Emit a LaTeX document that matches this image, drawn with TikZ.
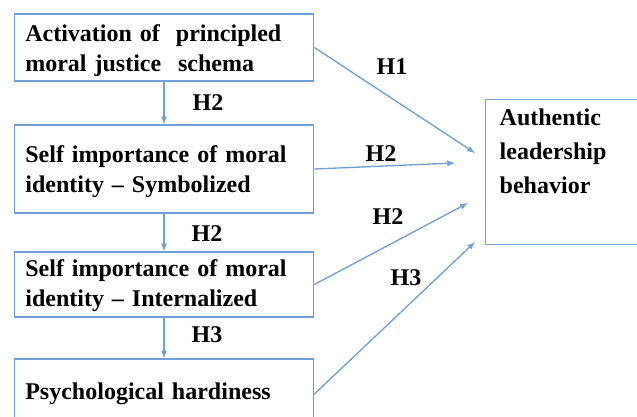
\documentclass[tikz,border=0pt]{standalone}
\usepackage{fontspec}
\setmainfont{Liberation Serif}
\definecolor{lineblue}{RGB}{110,160,215}
\tikzset{
  box/.style={draw=lineblue, line width=1.1pt, text width=208pt, align=left, inner xsep=8.25pt,
    font=\bfseries\fontsize{18}{22.5}\selectfont},
  hyp/.style={font=\bfseries\fontsize{18}{22}\selectfont},
  link/.style={->, draw=lineblue, line width=1pt}
}
\begin{document}
\begin{tikzpicture}[>=latex, x=.75pt, y=-.75pt]
\clip (0,0) rectangle (637,417);
\node[box, minimum height=50.25pt, text height=17pt] (act) at (164,47.5) {Activation of\ \ principled\\moral justice\hspace{.7em}schema};
\node[box, minimum height=66pt, text height=17pt] (sym) at (164,169) {Self importance of moral\\identity -- Symbolized};
\node[box, minimum height=48.75pt, text height=15pt] (int) at (164,284.5) {Self importance of moral\\identity -- Internalized};
\node[box, minimum height=52.5pt] (hard) at (164,394) {Psychological hardiness};
\node[box, anchor=north west, text width=110pt, minimum width=131pt, text depth=82pt, inner ysep=7pt,
      font=\bfseries\fontsize{18}{25.5}\selectfont] (alb) at (485,99) {Authentic\\leadership\\behavior};

\coordinate (t1) at (475,153);
\coordinate (t2) at (455,163);
\coordinate (t3) at (468,203);
\coordinate (t4) at (475,242);

\draw[link] (act.south)--(sym.north);
\draw[link] (sym.south)--(int.north);
\draw[link] (int.south)--(hard.north);
\foreach \a/\b in {act/t1, sym/t2, int/t3, hard/t4}
{
    \draw[link] (\a.east)--(\b);
}

\node[hyp] (h1) at (392,67) {H1};
\node[hyp] (h2a) at (208,103) {H2};
\node[hyp] (h2b) at (207,234) {H2};
\node[hyp] (h3a) at (207,335) {H3};
\node[hyp] (h2c) at (381,154) {H2};
\node[hyp] (h2d) at (388,217) {H2};
\node[hyp] (h3b) at (406,278) {H3};
\end{tikzpicture}
\end{document}
